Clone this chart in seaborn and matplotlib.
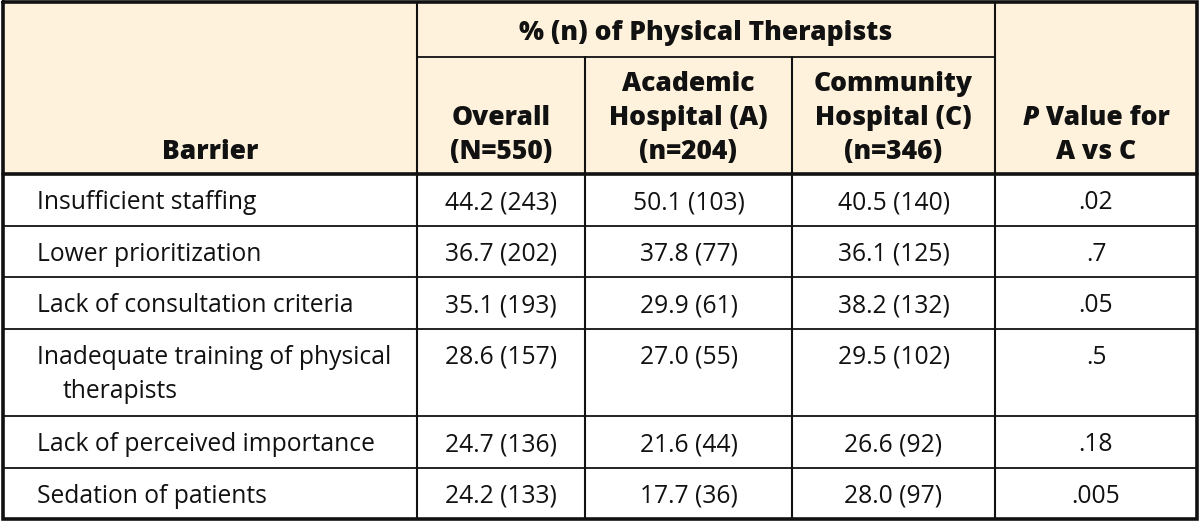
import matplotlib
matplotlib.use("Agg")
import matplotlib.pyplot as plt
import seaborn as sns

# Table data
barriers = [
    "Insufficient staffing",
    "Lower prioritization",
    "Lack of consultation criteria",
    "Inadequate training of physical\ntherapists",
    "Lack of perceived importance",
    "Sedation of patients",
]
overall_pct = [44.2, 36.7, 35.1, 28.6, 24.7, 24.2]
overall_n = [243, 202, 193, 157, 136, 133]
academic_pct = [50.1, 37.8, 29.9, 27.0, 21.6, 17.7]
academic_n = [103, 77, 61, 55, 44, 36]
community_pct = [40.5, 36.1, 38.2, 29.5, 26.6, 28.0]
community_n = [140, 125, 132, 102, 92, 97]
p_values = [".02", ".7", ".05", ".5", ".18", ".005"]

group_header = "% (n) of Physical Therapists"
col_headers = ["Barrier", "Overall\n(N=550)", "Academic\nHospital (A)\n(n=204)",
               "Community\nHospital (C)\n(n=346)", "P Value for\nA vs C"]

# Layout (pixels)
col_edges = [3, 417, 585, 792, 995, 1197]
head_top, group_bot, head_bot = 2, 57, 174
row_base, row_extra = 51.5, 36
line_gap = 34
header_bg = "#FEF2DC"
ink = "#111111"

sns.set_style("white")
body_font = ["Open Sans", "DejaVu Sans"]
head_font = ["Open Sans", "DejaVu Sans"]
body_size = 17.7
head_size = 19
head_weight = "heavy"

fig = plt.figure(figsize=(12, 5.23), dpi=100)
ax = fig.add_axes([0, 0, 1, 1])
ax.set_xlim(0, 1200)
ax.set_ylim(523, 0)
ax.axis("off")

# row boundaries from number of lines in each barrier
row_edges = [head_bot]
for b in barriers:
    n_lines = b.count("\n") + 1
    row_edges.append(row_edges[-1] + row_base + row_extra * (n_lines - 1))
bottom = row_edges[-1]

# header background
ax.fill_between([col_edges[0], col_edges[-1]], head_top, head_bot, color=header_bg, lw=0)

# header text
ax.text((col_edges[1] + col_edges[4]) / 2, (head_top + group_bot) / 2 + 3, group_header,
        ha="center", va="center", fontsize=head_size, fontweight=head_weight,
        family=head_font, color=ink)

base_y = 152
for j, h in enumerate(col_headers):
    cx = (col_edges[j] + col_edges[j + 1]) / 2
    lines = h.split("\n")
    for k, ln in enumerate(lines):
        y = base_y - line_gap * (len(lines) - 1 - k)
        if ln.startswith("P Value"):
            t1 = ax.text(0, y, "P", ha="left", va="center", fontsize=head_size,
                         fontweight=head_weight, style="italic", family=head_font, color=ink)
            t2 = ax.text(0, y, " Value for", ha="left", va="center", fontsize=head_size,
                         fontweight=head_weight, family=head_font, color=ink)
            fig.canvas.draw()
            r = fig.canvas.get_renderer()
            w1 = t1.get_window_extent(r).width
            w2 = t2.get_window_extent(r).width
            x0 = cx - (w1 + w2) / 2
            t1.set_x(x0)
            t2.set_x(x0 + w1)
        else:
            ax.text(cx, y, ln, ha="center", va="center", fontsize=head_size,
                    fontweight=head_weight, family=head_font, color=ink)

# body text
for i, b in enumerate(barriers):
    y0 = row_edges[i] + row_base / 2 + 3
    for k, ln in enumerate(b.split("\n")):
        x = col_edges[0] + 34 + (26 if k > 0 else 0)
        ax.text(x, y0 + line_gap * k, ln, ha="left", va="center", fontsize=body_size,
                family=body_font, color=ink)
    cells = [f"{overall_pct[i]:.1f} ({overall_n[i]})",
             f"{academic_pct[i]:.1f} ({academic_n[i]})",
             f"{community_pct[i]:.1f} ({community_n[i]})",
             p_values[i]]
    for j, c in enumerate(cells):
        cx = (col_edges[j + 1] + col_edges[j + 2]) / 2
        ax.text(cx, y0, c, ha="center", va="center", fontsize=body_size,
                family=body_font, color=ink)

# grid lines
thin, thick = 1.3, 2.6
for y in row_edges[1:-1]:
    ax.plot([col_edges[0], col_edges[-1]], [y, y], color=ink, lw=thin, solid_capstyle="butt")
ax.plot([col_edges[0], col_edges[-1]], [head_bot, head_bot], color=ink, lw=thick)
ax.plot([col_edges[1], col_edges[4]], [group_bot, group_bot], color=ink, lw=thin)
for j, x in enumerate(col_edges[1:-1], start=1):
    y_start = group_bot if j in (2, 3) else head_top
    ax.plot([x, x], [y_start, bottom], color=ink, lw=thin + 0.2)
# outer frame
ax.plot([col_edges[0], col_edges[-1], col_edges[-1], col_edges[0], col_edges[0]],
        [head_top, head_top, bottom, bottom, head_top], color=ink, lw=thick,
        solid_joinstyle="miter")

fig.savefig("out.png", dpi=100)
